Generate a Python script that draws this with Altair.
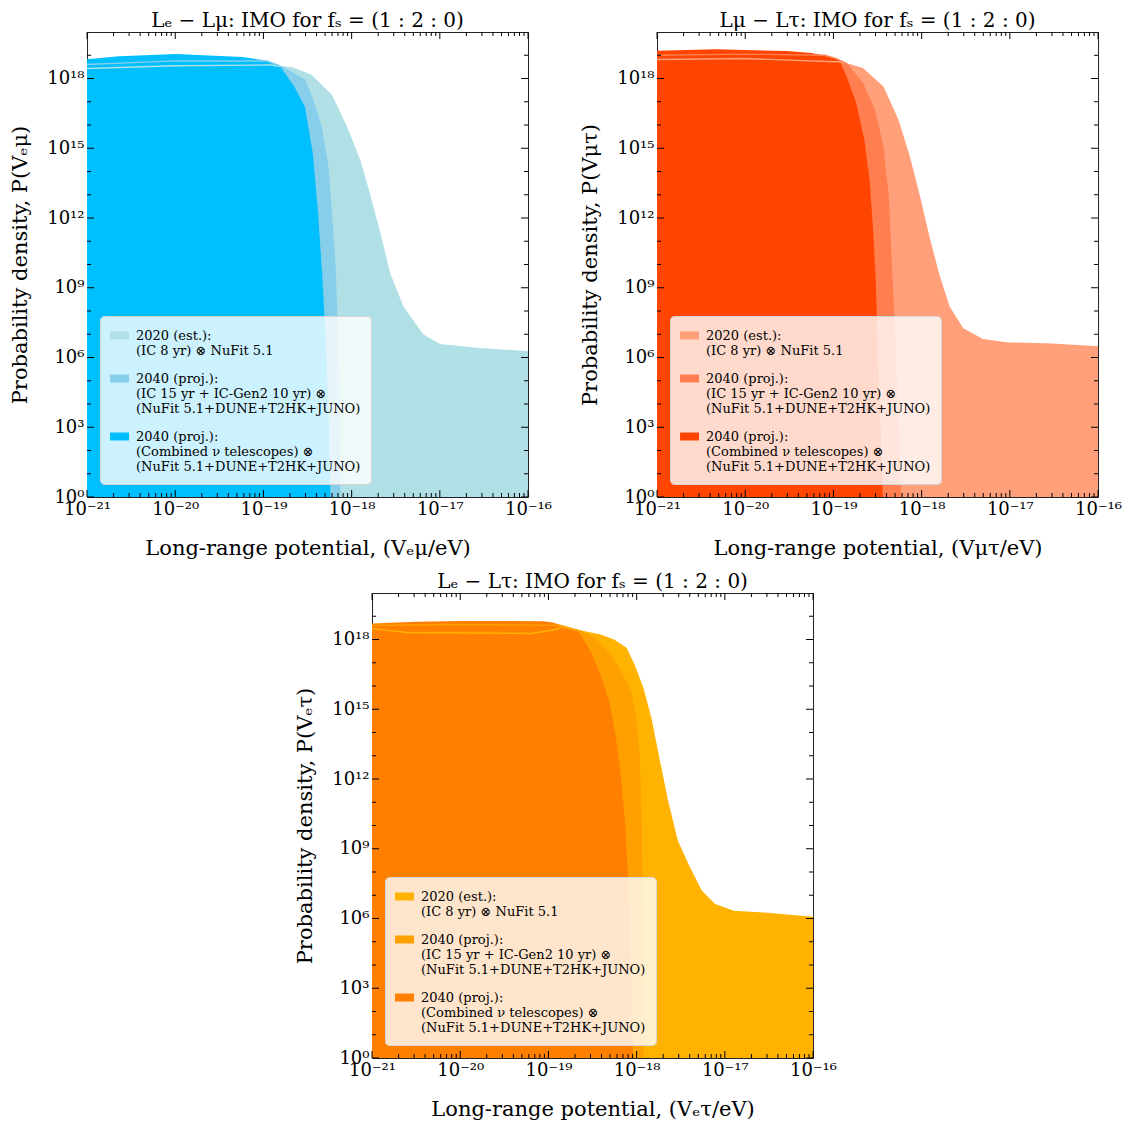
import altair as alt
import pandas as pd

# ---------------- tick labels ----------------
X_TICK_EXP = [-21, -20, -19, -18, -17, -16]
X_TICK_LABELS = ["10⁻²¹", "10⁻²⁰", "10⁻¹⁹", "10⁻¹⁸", "10⁻¹⁷", "10⁻¹⁶"]
Y_TICK_EXP = [0, 3, 6, 9, 12, 15, 18]
Y_TICK_LABELS = ["10⁰", "10³", "10⁶", "10⁹", "10¹²", "10¹⁵", "10¹⁸"]
Y_MINOR_EXP = [1, 2, 4, 5, 7, 8, 10, 11, 13, 14, 16, 17, 19]
X_MINOR_MULT = [2, 3, 4, 5, 6, 7, 8, 9]

# ---------------- legend labels ----------------
SERIES_NAMES = [
    "2020 (est.):\n(IC 8 yr) ⊗ NuFit 5.1",
    "2040 (proj.):\n(IC 15 yr + IC-Gen2 10 yr) ⊗\n(NuFit 5.1+DUNE+T2HK+JUNO)",
    "2040 (proj.):\n(Combined ν telescopes) ⊗\n(NuFit 5.1+DUNE+T2HK+JUNO)",
]

# ---------------- panel 1: Le - Lmu (log10 values) ----------------
EMU_2020_X = [-21, -20.0, -18.92, -18.82, -18.67, -18.46, -18.23, -18.06, -17.91, -17.80, -17.68, -17.57, -17.42, -17.19, -17.0, -16.55, -16.0]
EMU_2020_Y = [18.43, 18.55, 18.58, 18.52, 18.45, 18.14, 17.28, 15.92, 14.49, 13.05, 11.33, 9.61, 8.18, 6.96, 6.55, 6.38, 6.24]
EMU_2040_X = [-21, -20.0, -18.96, -18.82, -18.74, -18.53, -18.44, -18.345, -18.27, -18.23, -18.19, -18.17, -18.145, -18.135]
EMU_2040_Y = [18.60, 18.76, 18.75, 18.55, 18.39, 17.93, 17.07, 15.92, 14.2, 12.19, 10.04, 7.89, 5.0, 0]
EMU_COMB_X = [-21, -20.64, -19.99, -19.24, -18.95, -18.82, -18.65, -18.53, -18.44, -18.38, -18.33, -18.29, -18.26, -18.24]
EMU_COMB_Y = [18.83, 18.96, 19.05, 18.93, 18.75, 18.58, 17.64, 16.78, 14.77, 12.19, 9.32, 6.45, 3.58, 0]

# ---------------- panel 2: Lmu - Ltau ----------------
MUTAU_2020_X = [-21, -20.0, -19.0, -18.93, -18.67, -18.44, -18.27, -18.14, -18.025, -17.91, -17.80, -17.69, -17.535, -17.31, -17.04, -16.52, -16.0]
MUTAU_2020_Y = [18.82, 18.86, 18.72, 18.72, 18.43, 17.64, 16.21, 14.63, 12.91, 11.05, 9.47, 8.18, 7.24, 6.77, 6.63, 6.57, 6.45]
MUTAU_2040_X = [-21, -20.0, -19.1, -18.97, -18.855, -18.67, -18.535, -18.44, -18.38, -18.345, -18.31, -18.27, -18.24]
MUTAU_2040_Y = [19.0, 19.05, 19.0, 18.85, 18.65, 17.78, 16.64, 15.06, 12.91, 10.04, 7.17, 3.58, 0]
MUTAU_COMB_X = [-21, -20.33, -19.53, -19.25, -19.04, -18.93, -18.835, -18.74, -18.65, -18.59, -18.55, -18.52, -18.50, -18.47, -18.44]
MUTAU_COMB_Y = [19.19, 19.26, 19.18, 19.10, 18.93, 18.79, 17.93, 16.92, 15.35, 13.63, 11.48, 9.32, 6.45, 3.58, 0]

# ---------------- panel 3: Le - Ltau ----------------
ETAU_2020_X = [-21, -20.6, -19.2, -18.9, -18.86, -18.63, -18.41, -18.26, -18.12, -18.03, -17.93, -17.84, -17.75, -17.65, -17.54, -17.42, -17.27, -17.12, -16.90, -16.52, -16.0]
ETAU_2020_Y = [18.47, 18.30, 18.26, 18.44, 18.55, 18.36, 18.19, 17.97, 17.62, 16.90, 15.90, 14.62, 12.90, 11.05, 9.33, 8.33, 7.19, 6.61, 6.30, 6.22, 6.04]
ETAU_2040_X = [-21, -20.0, -19.2, -18.86, -18.63, -18.48, -18.29, -18.16, -18.07, -18.01, -17.97, -17.95, -17.94, -17.93]
ETAU_2040_Y = [18.60, 18.65, 18.62, 18.60, 18.36, 18.05, 17.33, 16.47, 15.76, 14.62, 12.90, 10.04, 6.47, 0]
ETAU_COMB_X = [-21, -20.5, -20.0, -19.5, -19.05, -18.94, -18.86, -18.71, -18.65, -18.52, -18.41, -18.31, -18.24, -18.18, -18.13, -18.10, -18.07, -18.04]
ETAU_COMB_Y = [18.69, 18.76, 18.80, 18.80, 18.79, 18.72, 18.62, 18.40, 18.30, 17.48, 16.47, 15.33, 13.90, 12.19, 10.04, 7.90, 5.04, 0]

BLUES = ["#B0E0E6", "#87CEEB", "#00BFFF"]
REDS = ["#FFA07A", "#FF7F50", "#FF4500"]
ORANGES = ["#FFB300", "#FFA000", "#FF7F00"]

FONT = "DejaVu Serif"
W, H = 441, 465


def arr_expr(labels):
    return "[" + ",".join("'" + s + "'" for s in labels) + "]"


def panel(title, xtitle, ytitle, colors, curves):
    xscale = alt.Scale(type="log", domain=[1e-21, 1e-16])
    yscale = alt.Scale(type="log", domain=[1, 1e20])
    xaxis = alt.Axis(
        values=[10.0 ** e for e in X_TICK_EXP],
        labelExpr=arr_expr(X_TICK_LABELS) + "[round(log(datum.value)/LN10)+21]",
        title=xtitle,
    )
    yaxis = alt.Axis(
        values=[10.0 ** e for e in Y_TICK_EXP],
        labelExpr=arr_expr(Y_TICK_LABELS) + "[round(log(datum.value)/LN10/3)]",
        title=ytitle,
    )
    legend = alt.Legend(
        orient="none", legendX=13, legendY=284, title=None,
        labelExpr="split(datum.label, '\\n')",
    )
    cscale = alt.Scale(domain=SERIES_NAMES, range=colors)
    layers = []
    for name, (xe, ye) in zip(SERIES_NAMES, curves):
        df = pd.DataFrame({"x": [10.0 ** v for v in xe], "y": [10.0 ** v for v in ye], "series": name})
        layers.append(
            alt.Chart(df).mark_area(clip=True, opacity=1).encode(
                x=alt.X("x:Q", scale=xscale, axis=xaxis),
                y=alt.Y("y:Q", scale=yscale, axis=yaxis, stack=None),
                y2=alt.datum(1),
                color=alt.Color("series:N", scale=cscale, legend=legend),
            )
        )
    for (xe, ye), c in zip(curves[:2], colors[:2]):
        df = pd.DataFrame({"x": [10.0 ** v for v in xe], "y": [10.0 ** v for v in ye]})
        layers.append(
            alt.Chart(df).mark_line(clip=True, strokeWidth=1.4).encode(
                x=alt.X("x:Q", scale=xscale, axis=xaxis),
                y=alt.Y("y:Q", scale=yscale, axis=yaxis),
                color=alt.value(c),
            )
        )
    # tick marks (inward, all four sides)
    xmaj = pd.DataFrame({"v": [10.0 ** e for e in X_TICK_EXP]})
    xmin = pd.DataFrame({"v": [m * 10.0 ** e for e in X_TICK_EXP[:-1] for m in X_MINOR_MULT]})
    ymaj = pd.DataFrame({"v": [10.0 ** e for e in Y_TICK_EXP]})
    ymin = pd.DataFrame({"v": [10.0 ** e for e in Y_MINOR_EXP]})
    for df, ln in ((xmaj, 7), (xmin, 4)):
        for y0, y1 in ((H, H - ln), (0, ln)):
            layers.append(
                alt.Chart(df).mark_rule(color="black", strokeWidth=1).encode(
                    x=alt.X("v:Q", scale=xscale, axis=xaxis),
                    y=alt.value(y0), y2=alt.value(y1),
                )
            )
    for df, ln in ((ymaj, 7), (ymin, 4)):
        for x0, x1 in ((0, ln), (W, W - ln)):
            layers.append(
                alt.Chart(df).mark_rule(color="black", strokeWidth=1).encode(
                    y=alt.Y("v:Q", scale=yscale, axis=yaxis),
                    x=alt.value(x0), x2=alt.value(x1),
                )
            )
    return alt.layer(*layers).properties(
        width=W, height=H,
        title=alt.TitleParams(title, font=FONT, fontSize=20, fontWeight="normal", offset=1),
    )


p1 = panel("Lₑ − Lμ: IMO for fₛ = (1 : 2 : 0)", "Long-range potential, (Vₑμ/eV)",
           "Probability density, P(Vₑμ)", BLUES,
           [(EMU_2020_X, EMU_2020_Y), (EMU_2040_X, EMU_2040_Y), (EMU_COMB_X, EMU_COMB_Y)])
p2 = panel("Lμ − Lτ: IMO for fₛ = (1 : 2 : 0)", "Long-range potential, (Vμτ/eV)",
           "Probability density, P(Vμτ)", REDS,
           [(MUTAU_2020_X, MUTAU_2020_Y), (MUTAU_2040_X, MUTAU_2040_Y), (MUTAU_COMB_X, MUTAU_COMB_Y)])
p3 = panel("Lₑ − Lτ: IMO for fₛ = (1 : 2 : 0)", "Long-range potential, (Vₑτ/eV)",
           "Probability density, P(Vₑτ)", ORANGES,
           [(ETAU_2020_X, ETAU_2020_Y), (ETAU_2040_X, ETAU_2040_Y), (ETAU_COMB_X, ETAU_COMB_Y)])

legend_cfg = dict(
    fillColor="rgba(255,255,255,0.8)", strokeColor="#d5d5d5", cornerRadius=4, padding=10,
    labelFont=FONT, labelFontSize=13, labelColor="black", labelLimit=400, labelOffset=7,
    symbolType="M-1,-0.42L1,-0.42L1,0.42L-1,0.42Z", symbolSize=361, symbolStrokeWidth=0,
    symbolOpacity=1, rowPadding=11,
)

top = alt.hconcat(p1, p2, spacing=27).resolve_scale(color="independent", x="independent", y="independent")
chart = alt.vconcat(top, p3, spacing=12, center=True).resolve_scale(
    color="independent", x="independent", y="independent"
).properties(padding={"left": 1, "top": 2, "right": 0, "bottom": 0}).configure_view(
    stroke="#222", strokeWidth=1
).configure_axis(
    domain=False, ticks=False, grid=False, labelFont=FONT, labelFontSize=18, labelColor="black",
    labelFlush=False, labelOverlap=False, labelPadding=3,
    titleFont=FONT, titleFontSize=21, titleFontWeight="normal", titleColor="black",
).configure_axisY(titlePadding=16, labelPadding=3).configure_axisX(titlePadding=19).configure_legend(
    **legend_cfg
)

chart.save("out.html", embed_options={"renderer": "svg", "actions": False})
